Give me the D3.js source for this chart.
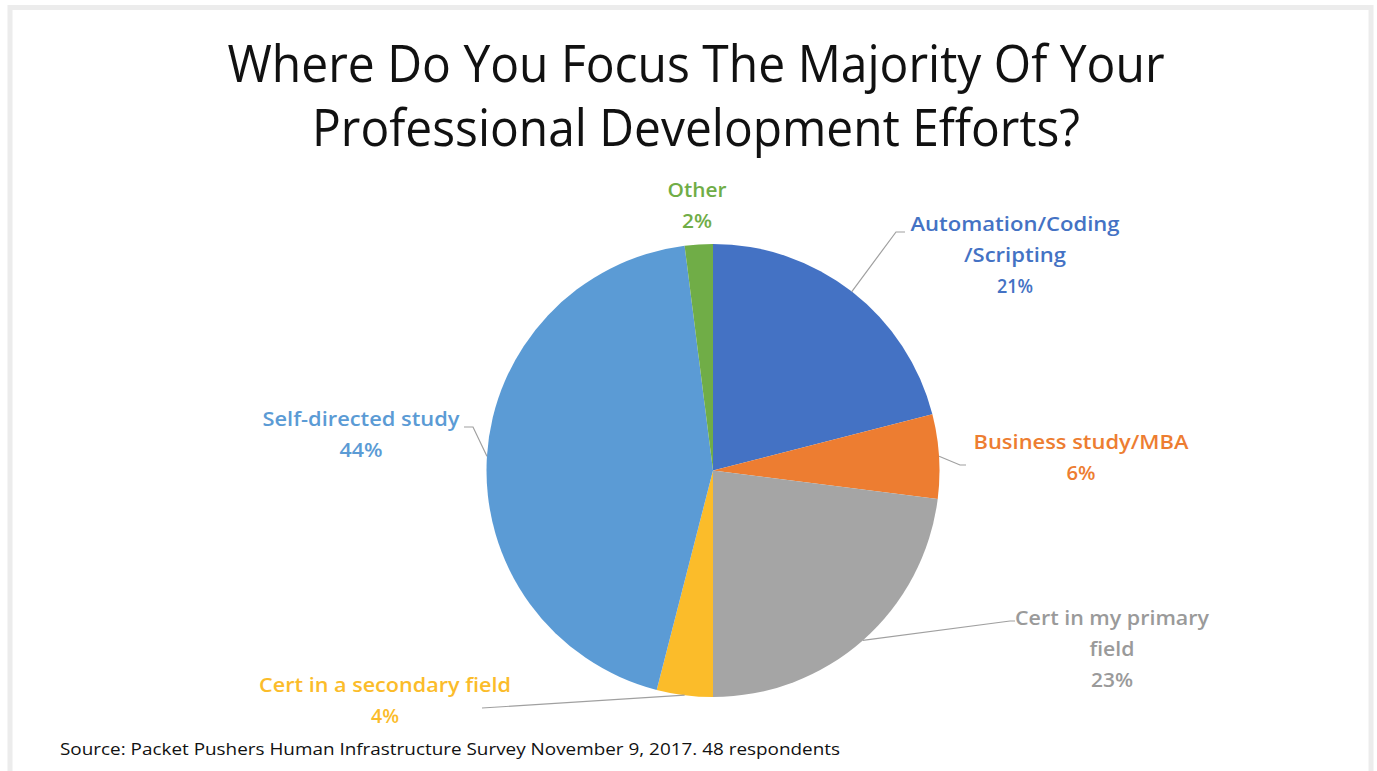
<!DOCTYPE html>
<html><head><meta charset="utf-8">
<script src="https://cdn.jsdelivr.net/npm/d3@7"></script>
<style>html,body{margin:0;padding:0;background:#fff;}svg{display:block;}</style>
</head><body>
<svg id="chart" width="1377" height="771"></svg>
<script>
// ---- data ----
const categories = ["Automation/Coding/Scripting", "Business study/MBA", "Cert in my primary field", "Cert in a secondary field", "Self-directed study", "Other"];
const values = [21, 6, 23, 4, 44, 2];
const percentLabels = ["21%", "6%", "23%", "4%", "44%", "2%"];
const labelLines = [["Automation/Coding", "/Scripting"], ["Business study/MBA"], ["Cert in my primary", "field"], ["Cert in a secondary field"], ["Self-directed study"], ["Other"]];
const colors = ["#4472C4", "#ED7D31", "#A5A5A5", "#FBBC2A", "#5B9BD5", "#70AD47"];
const titleLines = ["Where Do You Focus The Majority Of Your", "Professional Development Efforts?"];
const sourceText = "Source: Packet Pushers Human Infrastructure Survey November 9, 2017. 48 respondents";

// ---- layout (positions/styles only) ----
const cx = 713, cy = 470.5, R = 226.5;
const labelLayout = [
  {x: 1015, y: 231, widths: [209, 102, 36], leader: [[896, 232], [905, 232]]},
  {x: 1081, y: 449, widths: [215, 29], leader: [[960, 465], [966, 465]]},
  {x: 1112, y: 625, widths: [194, 45, 42], leader: [[1010, 621], [1015, 621]]},
  {x: 385, y: 692, widths: [252, 28], leader: [[482, 708]]},
  {x: 361, y: 426, widths: [197, 43], leader: [[473, 427], [464, 427]]},
  {x: 697, y: 197, widths: [59, 30], leader: null}
];
const lineGap = 31;

const svg = d3.select("#chart");
svg.append("rect").attr("x", 10).attr("y", 7.5).attr("width", 1361).attr("height", 780)
  .attr("fill", "#fff").attr("stroke", "#ececec").attr("stroke-width", 5);

// title
svg.append("g").selectAll("text").data(titleLines).join("text")
  .attr("x", 696).attr("y", (d, i) => 82 + i * 64)
  .attr("text-anchor", "middle")
  .attr("font-family", "'Open Sans', sans-serif").attr("font-size", 52)
  .attr("fill", "#111")
  .attr("textLength", (d, i) => [937, 768][i]).attr("lengthAdjust", "spacingAndGlyphs")
  .text(d => d);

// pie
const pie = d3.pie().sort(null).value(d => d)
  .startAngle(0).endAngle(2 * Math.PI);
const arcs = pie(values);
const arc = d3.arc().innerRadius(0).outerRadius(R);
const g = svg.append("g").attr("transform", `translate(${cx},${cy})`);
g.selectAll("path").data(arcs).join("path")
  .attr("d", arc).attr("fill", (d, i) => colors[i]);

// leader lines
const edge = d3.arc().innerRadius(R).outerRadius(R);
arcs.forEach((a, i) => {
  const L = labelLayout[i];
  if (!L.leader) return;
  const c = edge.centroid(a);
  const pts = [[cx + c[0], cy + c[1]], ...L.leader];
  svg.append("path").attr("d", d3.line()(pts))
    .attr("fill", "none").attr("stroke", "#a0a0a0").attr("stroke-width", 1.2);
});

// labels
categories.forEach((cat, i) => {
  const L = labelLayout[i];
  const lines = labelLines[i].concat([percentLabels[i]]);
  svg.append("g").selectAll("text").data(lines).join("text")
    .attr("x", L.x).attr("y", (d, j) => L.y + j * lineGap)
    .attr("text-anchor", "middle")
    .attr("font-family", "'Open Sans', sans-serif").attr("font-weight", 600)
    .attr("font-size", 19)
    .attr("fill", colors[i] === "#A5A5A5" ? "#9a9a9a" : colors[i])
    .attr("textLength", (d, j) => L.widths[j]).attr("lengthAdjust", "spacingAndGlyphs")
    .text(d => d);
});

// source
svg.append("text").attr("x", 60).attr("y", 755)
  .attr("font-family", "'Open Sans', sans-serif").attr("font-size", 16.5)
  .attr("fill", "#111")
  .attr("textLength", 780).attr("lengthAdjust", "spacingAndGlyphs")
  .text(sourceText);
</script>
</body></html>
